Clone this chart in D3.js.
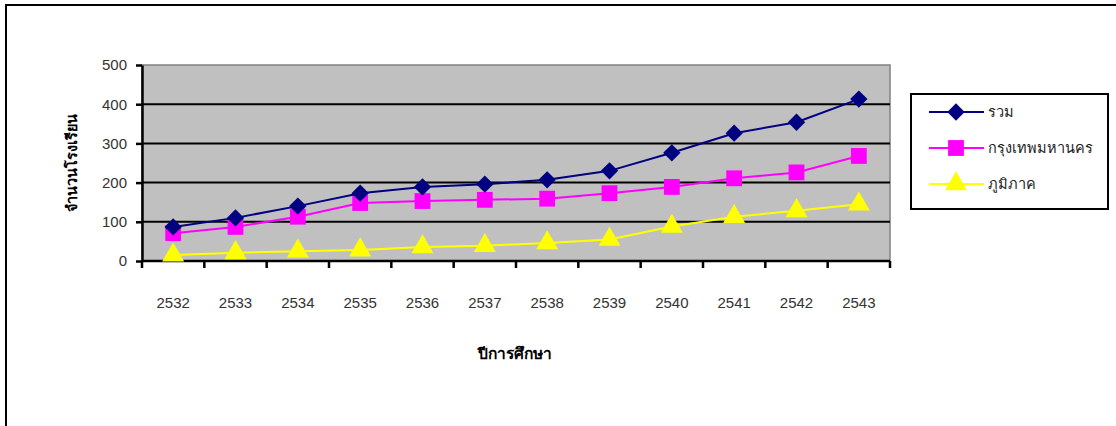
<!DOCTYPE html>
<html>
<head>
<meta charset="utf-8">
<script src="https://cdn.jsdelivr.net/npm/d3@7"></script>
<style>
  body { margin: 0; background: #fff; }
  text { font-family: "Liberation Sans", Arial, sans-serif; }
</style>
</head>
<body>
<div id="chart"></div>
<script>
// chart data
var years = ["2532", "2533", "2534", "2535", "2536", "2537", "2538", "2539", "2540", "2541", "2542", "2543"];
var total = [87, 110, 140, 173, 189, 196, 207, 230, 276, 326, 354, 413];
var bangkok = [71, 87, 113, 148, 153, 156, 159, 173, 189, 211, 226, 268];
var regional = [15, 21, 25, 28, 36, 39, 46, 55, 88, 113, 128, 145];
var seriesNames = ["รวม", "กรุงเทพมหานคร", "ภูมิภาค"];
var yTicks = [0, 100, 200, 300, 400, 500];

var svgWidth = 1116, svgHeight = 426;
var margin = {top: 65, left: 142, right: 226, bottom: 165};
var width = svgWidth - margin.left - margin.right;   // 748
var height = svgHeight - margin.top - margin.bottom; // 196

var svg = d3.select("#chart").append("svg")
  .attr("width", svgWidth)
  .attr("height", svgHeight);

// outer frame (left + top visible)
svg.append("rect")
  .attr("x", 6).attr("y", 5)
  .attr("width", 1120).attr("height", 440)
  .attr("fill", "none").attr("stroke", "#000").attr("stroke-width", 2);

var chartGroup = svg.append("g")
  .attr("transform", `translate(${margin.left}, ${margin.top})`);

var xScale = d3.scaleBand().domain(years).range([0, width]);
var yScale = d3.scaleLinear().domain([0, 500]).range([height, 0]);

// plot background
chartGroup.append("rect")
  .attr("width", width).attr("height", height)
  .attr("fill", "#c0c0c0")
  .attr("stroke", "#808080").attr("stroke-width", 1.5);

// gridlines
chartGroup.selectAll(".grid")
  .data(yTicks.filter(d => d > 0 && d < 500))
  .enter().append("line")
  .attr("x1", 0).attr("x2", width)
  .attr("y1", d => yScale(d)).attr("y2", d => yScale(d))
  .attr("stroke", "#000").attr("stroke-width", 2);

// y axis
var leftAxis = d3.axisLeft(yScale).tickValues(yTicks).tickSizeInner(6).tickSizeOuter(0).tickPadding(9);
var yAxis = chartGroup.append("g").call(leftAxis);
yAxis.select(".domain").attr("stroke", "#000").attr("stroke-width", 2.5);
yAxis.selectAll(".tick line").attr("stroke", "#000").attr("stroke-width", 2.5);
yAxis.selectAll("text").attr("font-size", 15).attr("fill", "#333")
  .attr("font-family", "Liberation Sans, Arial, sans-serif");

// x axis: ticks between categories
var xAxisLine = chartGroup.append("g").attr("transform", `translate(0, ${height})`);
xAxisLine.append("line").attr("x1", 0).attr("x2", width)
  .attr("stroke", "#000").attr("stroke-width", 2.5);
var bounds = years.map(d => xScale(d)).concat([width]);
xAxisLine.selectAll(".xt").data(bounds).enter().append("line")
  .attr("x1", d => d).attr("x2", d => d)
  .attr("y1", 0).attr("y2", 7)
  .attr("stroke", "#000").attr("stroke-width", 2.5);
xAxisLine.selectAll(".xl").data(years).enter().append("text")
  .attr("x", d => xScale(d) + xScale.bandwidth() / 2)
  .attr("y", 47)
  .attr("text-anchor", "middle")
  .attr("font-size", 15).attr("fill", "#333")
  .text(d => d);

// axis titles
chartGroup.append("text")
  .attr("x", width / 2 - 1).attr("y", height + 98)
  .attr("text-anchor", "middle")
  .attr("font-size", 15.5).attr("font-weight", "bold")
  .attr("font-family", "Noto Sans, sans-serif")
  .text("ปีการศึกษา");

chartGroup.append("text")
  .attr("transform", "rotate(-90)")
  .attr("x", -(height / 2) + 0).attr("y", -65)
  .attr("text-anchor", "middle")
  .attr("font-size", 14.5).attr("font-weight", "bold")
  .attr("font-family", "Noto Sans, sans-serif")
  .text("จำนวนโรงเรียน");

// series
var series = [
  {name: seriesNames[0], values: total, color: "#000080", symbol: d3.symbolSquare, size: 150, rot: 45},
  {name: seriesNames[1], values: bangkok, color: "#ff00ff", symbol: d3.symbolSquare, size: 250, rot: 0},
  {name: seriesNames[2], values: regional, color: "#ffff00", symbol: d3.symbolTriangle, size: 210, rot: 0}
];

var line = d3.line()
  .x((d, i) => xScale(years[i]) + xScale.bandwidth() / 2)
  .y(d => yScale(d));

series.slice().reverse().forEach(function(s) {
  chartGroup.append("path")
    .datum(s.values)
    .attr("d", line)
    .attr("fill", "none")
    .attr("stroke", s.color)
    .attr("stroke-width", 2);

  chartGroup.selectAll(null)
    .data(s.values)
    .enter().append("path")
    .attr("d", d3.symbol().type(s.symbol).size(s.size))
    .attr("transform", (d, i) => `translate(${xScale(years[i]) + xScale.bandwidth() / 2}, ${yScale(d)}) rotate(${s.rot})`)
    .attr("fill", s.color);
});

// legend
var legend = svg.append("g").attr("transform", "translate(911, 94)");
legend.append("rect")
  .attr("width", 197).attr("height", 115)
  .attr("fill", "#fff").attr("stroke", "#000").attr("stroke-width", 2);

series.forEach(function(s, i) {
  var yPos = 18 + i * 36;
  legend.append("line")
    .attr("x1", 18).attr("x2", 73)
    .attr("y1", yPos).attr("y2", yPos)
    .attr("stroke", s.color).attr("stroke-width", 2);
  legend.append("path")
    .attr("d", d3.symbol().type(s.symbol).size(s.size))
    .attr("transform", `translate(45, ${yPos}) rotate(${s.rot})`)
    .attr("fill", s.color);
  legend.append("text")
    .attr("x", 77).attr("y", yPos + 5)
    .attr("font-size", 14.5).attr("fill", "#222")
    .attr("font-family", "Noto Sans, sans-serif")
    .text(s.name);
});
</script>
</body>
</html>
